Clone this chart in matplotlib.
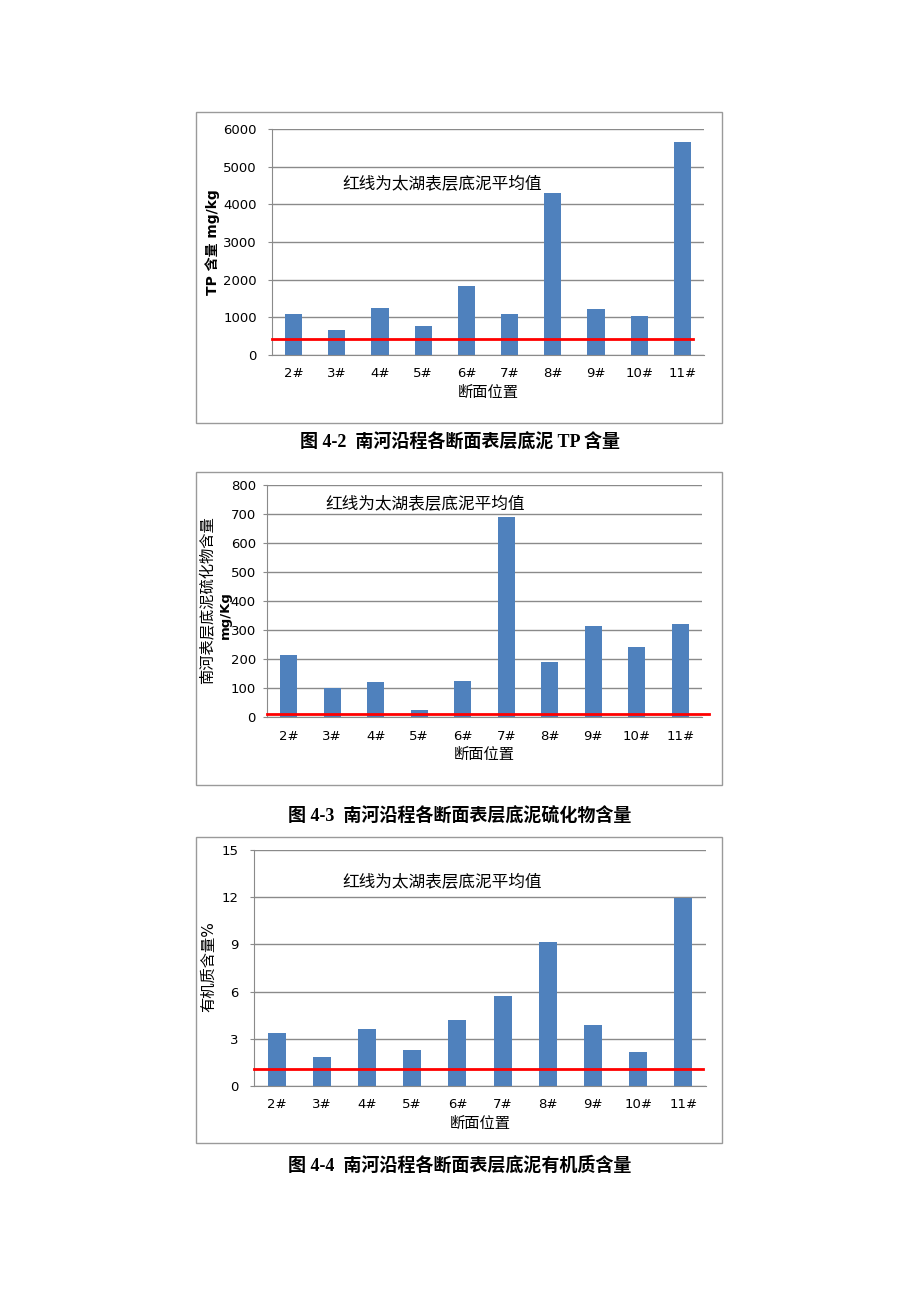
import numpy as np
import matplotlib
matplotlib.use('Agg')
import matplotlib.pyplot as plt
from matplotlib.patches import Rectangle

plt.rcParams['font.family'] = ['DejaVu Sans', 'Noto Sans CJK SC']

# Data
sections = ['2#', '3#', '4#', '5#', '6#', '7#', '8#', '9#', '10#', '11#']
tp = [1090, 665, 1250, 780, 1830, 1090, 4300, 1220, 1030, 5660]
tp_mean = 415
sulfide = [215, 99, 119, 24, 124, 690, 188, 313, 241, 322]
sulfide_mean = 10
organic = [3.35, 1.82, 3.65, 2.31, 4.22, 5.75, 9.17, 3.90, 2.16, 11.97]
organic_mean = 1.1

W, H = 920, 1302
BLUE = '#4F81BD'
GRID = '#8a8a8a'
NOTE = '红线为太湖表层底泥平均值'
XLAB = '断面位置'
CAPTION_FONT = ['Liberation Serif', 'Noto Sans CJK SC']

fig = plt.figure(figsize=(W / 100, H / 100), dpi=100)


def fx(px):
    return px / W


def fy(py):
    return 1 - py / H


def panel(frame, box, values, mean, mean_end, ymax, ystep, note_xy, xlab_y, ypad):
    # outer grey frame like the Excel chart area
    x0, y0, x1, y1 = frame
    fig.patches.append(Rectangle((fx(x0), fy(y1)), fx(x1 - x0), (y1 - y0) / H,
                                 transform=fig.transFigure, fill=False,
                                 edgecolor='#9a9a9a', linewidth=1.0))
    l, t, r, b = box
    ax = fig.add_axes([fx(l), fy(b), fx(r - l), (b - t) / H])
    x = np.arange(len(sections))
    ax.bar(x, values, width=0.4, color=BLUE, zorder=2)
    ax.plot([-0.5, mean_end], [mean, mean], color='red', linewidth=2,
            zorder=3, clip_on=False)
    ax.set_xlim(-0.5, len(sections) - 0.5)
    ax.set_ylim(0, ymax)
    ax.set_yticks(np.arange(0, ymax + ystep / 2, ystep))
    ax.set_xticks(x)
    ax.set_xticklabels(sections)
    ax.yaxis.grid(True, color=GRID, linewidth=1.0, zorder=0)
    ax.set_axisbelow(True)
    for s in ['top', 'right']:
        ax.spines[s].set_visible(False)
    for s in ['left', 'bottom']:
        ax.spines[s].set_color(GRID)
    ax.tick_params(axis='y', length=3, color=GRID, pad=ypad, labelsize=9.5)
    ax.tick_params(axis='x', length=0, pad=9, labelsize=9.5)
    fig.text(fx(note_xy[0]), fy(note_xy[1]), NOTE, fontsize=12,
             ha='left', va='center')
    fig.text(fx((l + r) / 2), fy(xlab_y), XLAB, fontsize=11,
             ha='center', va='center')
    return ax


# TP
panel((196, 112, 722, 423), (272, 129, 704, 355), tp, tp_mean, 9.25,
      6000, 1000, (342, 184), 392, 8)
fig.text(fx(213), fy(242), 'TP 含量 mg/kg', rotation=90, fontsize=10,
         fontweight='bold', ha='center', va='center')
fig.text(fx(460), fy(443), '图 4-2  南河沿程各断面表层底泥 TP 含量',
         family=CAPTION_FONT, fontweight='bold',
         fontsize=13, ha='center', va='center')

# sulfide
panel((196, 472, 722, 785), (267, 485, 702, 717), sulfide, sulfide_mean, 9.65,
      800, 100, (325, 504), 754, 5)
fig.text(fx(208), fy(600), '南河表层底泥硫化物含量', rotation=90, fontsize=11,
         ha='center', va='center')
fig.text(fx(225), fy(615), 'mg/Kg', rotation=90, fontsize=9.5,
         fontweight='bold', ha='center', va='center')
fig.text(fx(460), fy(817), '图 4-3  南河沿程各断面表层底泥硫化物含量',
         family=CAPTION_FONT, fontweight='bold',
         fontsize=13, ha='center', va='center')

# organic matter
panel((196, 837, 722, 1143), (254, 850, 706, 1086), organic, organic_mean, 9.43,
      15, 3, (342, 882), 1123, 8)
fig.text(fx(209), fy(967), '有机质含量%', rotation=90, fontsize=11,
         ha='center', va='center')
fig.text(fx(460), fy(1166), '图 4-4  南河沿程各断面表层底泥有机质含量',
         family=CAPTION_FONT, fontweight='bold',
         fontsize=13, ha='center', va='center')

fig.savefig('out.png', dpi=100)
